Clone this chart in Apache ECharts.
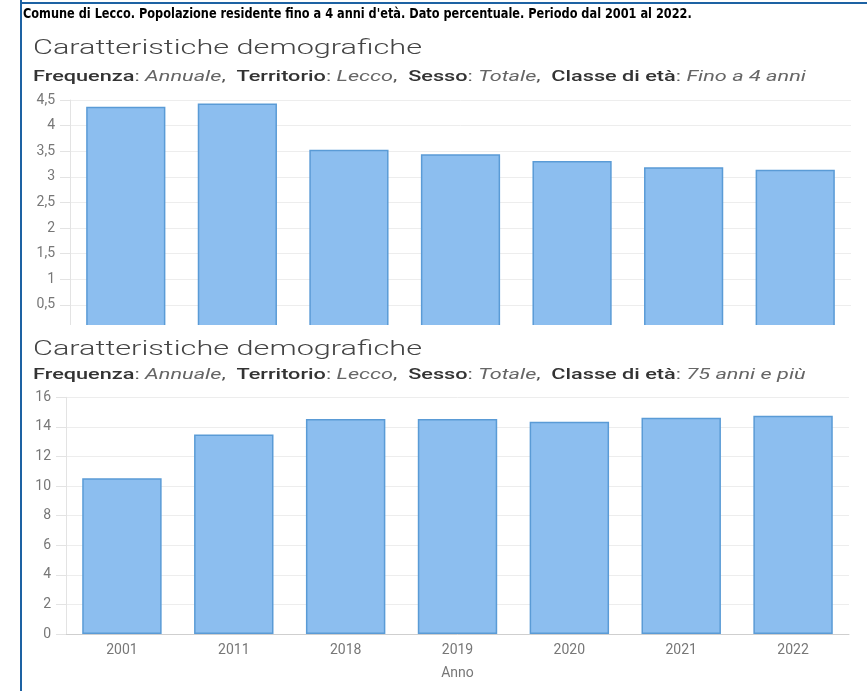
<!DOCTYPE html>
<html>
<head>
<meta charset="utf-8">
<script src="https://cdn.jsdelivr.net/npm/echarts@6/dist/echarts.min.js"></script>
<style>
html,body{margin:0;padding:0;background:#fff;}
#chart{width:867px;height:691px;}
</style>
</head>
<body>
<div id="chart"></div>
<script>
// ---- data ----
var years = ['2001', '2011', '2018', '2019', '2020', '2021', '2022'];
var under5Values = [4.37, 4.43, 3.53, 3.44, 3.31, 3.19, 3.14];
var over75Values = [10.52, 13.49, 14.53, 14.53, 14.35, 14.62, 14.75];
var topTicks = { min: 0, max: 4.5, interval: 0.5 };
var bottomTicks = { min: 0, max: 16, interval: 2 };
var headerText = "Comune di Lecco. Popolazione residente fino a 4 anni d'età. Dato percentuale. Periodo dal 2001 al 2022.";
var chartTitle = 'Caratteristiche demografiche';
var topSubtitle = [['Frequenza', 'Annuale'], ['Territorio', 'Lecco'], ['Sesso', 'Totale'], ['Classe di età', 'Fino a 4 anni']];
var bottomSubtitle = [['Frequenza', 'Annuale'], ['Territorio', 'Lecco'], ['Sesso', 'Totale'], ['Classe di età', '75 anni e più']];
var xAxisName = 'Anno';

function subText(parts) {
  return parts.map(function (p) { return '{b|' + p[0] + '}{n|: }{i|' + p[1] + '}'; }).join('{n|,  }');
}
function fmtNum(v) {
  if (v === 0) return '';
  return String(v).replace('.', ',');
}
function fmtNum0(v) { return String(v).replace('.', ','); }

var FONT = 'Roboto, "Noto Sans", sans-serif';
var barStyle = { color: '#8cbeef', borderColor: '#5a9bd6', borderWidth: 1.5 };
var axisLabelStyle = { color: '#777', fontSize: 14, fontFamily: FONT };

var chart = echarts.init(document.getElementById('chart'), null, { renderer: 'canvas' });

function subGraphic(y, parts) {
  return {
    type: 'text', left: 33, top: y, z: 100, scaleX: 1.55,
    style: {
      text: subText(parts),
      fontFamily: FONT, fontSize: 14, fill: '#333',
      rich: {
        b: { fontWeight: 500, fontSize: 14, fontFamily: FONT, fill: '#333' },
        n: { fontSize: 14, fontFamily: FONT, fill: '#555' },
        i: { fontStyle: 'italic', fontSize: 14, fontFamily: FONT, fill: '#666' }
      }
    }
  };
}

var option = {
  backgroundColor: '#fff',
  animation: false,
  graphic: [
    { type: 'line', z: 100, shape: { x1: 21, y1: 0, x2: 21, y2: 691 }, style: { stroke: '#1d62a3', lineWidth: 2 } },
    { type: 'line', z: 100, shape: { x1: 21, y1: 3, x2: 867, y2: 3 }, style: { stroke: '#1d62a3', lineWidth: 2 } },
    { type: 'text', left: 23, top: 7, z: 100, scaleX: 0.9,
      style: { text: headerText, fontFamily: '"Liberation Sans Narrow", "DejaVu Sans Condensed", sans-serif', fontWeight: 'bold', fontSize: 14, fill: '#000' } },
    { type: 'text', left: 33, top: 38, z: 100, scaleX: 1.46,
      style: { text: chartTitle, fontFamily: FONT, fontWeight: 300, fontSize: 21, fill: '#444' } },
    subGraphic(70, topSubtitle),
    // mask to crop the top chart just above its baseline
    { type: 'rect', z: 90, shape: { x: 22, y: 325, width: 845, height: 10 }, style: { fill: '#fff' } },
    { type: 'text', left: 33, top: 339, z: 100, scaleX: 1.46,
      style: { text: chartTitle, fontFamily: FONT, fontWeight: 300, fontSize: 21, fill: '#444' } },
    subGraphic(368, bottomSubtitle)
  ],
  grid: [
    { left: 70, right: 16, top: 100, height: 230.6, containLabel: false },
    { left: 66, right: 18, top: 397.3, height: 236.7, containLabel: false }
  ],
  xAxis: [
    { type: 'category', gridIndex: 0, data: years,
      axisLine: { show: false }, axisTick: { show: false }, axisLabel: { show: false } },
    { type: 'category', gridIndex: 1, data: years,
      name: xAxisName, nameLocation: 'middle', nameGap: 32,
      nameTextStyle: { color: '#777', fontSize: 14, fontFamily: FONT },
      axisLine: { show: true, lineStyle: { color: '#cfcfcf', width: 1 } },
      axisTick: { show: false },
      axisLabel: Object.assign({ margin: 9 }, axisLabelStyle) }
  ],
  yAxis: [
    { type: 'value', gridIndex: 0, min: topTicks.min, max: topTicks.max, interval: topTicks.interval,
      axisLine: { show: true, lineStyle: { color: '#e3e3e3' } },
      axisTick: { show: true, length: 10, lineStyle: { color: '#e3e3e3' } },
      splitLine: { show: true, lineStyle: { color: '#ededed' } },
      axisLabel: Object.assign({ margin: 15, formatter: fmtNum }, axisLabelStyle) },
    { type: 'value', gridIndex: 1, min: bottomTicks.min, max: bottomTicks.max, interval: bottomTicks.interval,
      axisLine: { show: true, lineStyle: { color: '#e3e3e3' } },
      axisTick: { show: true, length: 10, lineStyle: { color: '#e3e3e3' } },
      splitLine: { show: true, lineStyle: { color: '#ededed' } },
      axisLabel: Object.assign({ margin: 15, formatter: fmtNum0 }, axisLabelStyle) }
  ],
  series: [
    { type: 'bar', xAxisIndex: 0, yAxisIndex: 0, data: under5Values, barWidth: '71%', itemStyle: barStyle },
    { type: 'bar', xAxisIndex: 1, yAxisIndex: 1, data: over75Values, barWidth: '71%', itemStyle: barStyle }
  ]
};
chart.setOption(option);
</script>
</body>
</html>
